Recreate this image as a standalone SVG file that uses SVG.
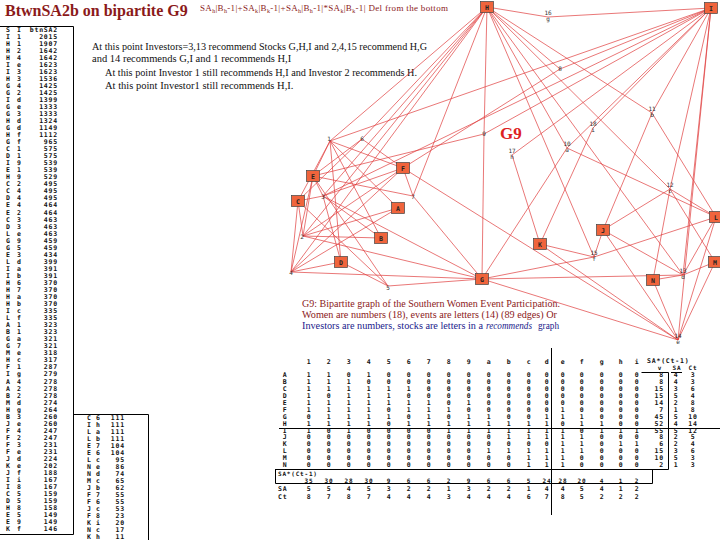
<svg xmlns="http://www.w3.org/2000/svg" width="720" height="540" viewBox="0 0 720 540">
<style>
.t{font-family:"DejaVu Sans Mono","Liberation Mono",monospace;font-size:6.5px;font-weight:bold;fill:#111;letter-spacing:0.8px}
.s{font-family:"Liberation Serif",serif;font-size:10.5px;fill:#111}
.cap{font-family:"Liberation Serif",serif;font-size:10.5px;fill:#8b1a1a}
.capb{font-family:"Liberation Serif",serif;font-size:10.5px;fill:#1a1a8b}
.e path{stroke:#e03c3c;stroke-width:0.7;fill:none}
.ev rect{fill:#f0643c;stroke:#444;stroke-width:0.7}
.ev text{font-family:"DejaVu Sans Mono",monospace;font-size:6.5px;font-weight:bold;fill:#222;text-anchor:middle}
.w text{font-family:"DejaVu Sans Mono",monospace;font-size:6px;fill:#333;text-anchor:middle}
.ln{stroke:#000;stroke-width:1;fill:none}
</style>
<rect width="720" height="540" fill="#fff"/>
<text x="5" y="16" style="font-family:'Liberation Serif',serif;font-size:16px;font-weight:bold;fill:#8b1a1a">BtwnSA2b on bipartite G9</text>
<text x="200" y="11" textLength="248" lengthAdjust="spacing" style="font-family:'Liberation Serif',serif;font-size:9px;fill:#8b1a1a">SA<tspan dy="2" font-size="6">h</tspan><tspan dy="-2">|B</tspan><tspan dy="2" font-size="6">h</tspan><tspan dy="-2">-1|+SA</tspan><tspan dy="2" font-size="6">k</tspan><tspan dy="-2">|B</tspan><tspan dy="2" font-size="6">k</tspan><tspan dy="-2">-1|+SA</tspan><tspan dy="2" font-size="6">h</tspan><tspan dy="-2">|B</tspan><tspan dy="2" font-size="6">h</tspan><tspan dy="-2">-1|*SA</tspan><tspan dy="2" font-size="6">k</tspan><tspan dy="-2">|B</tspan><tspan dy="2" font-size="6">k</tspan><tspan dy="-2">-1| Del from the bottom</tspan></text>

<text class="s" x="92" y="49.5" textLength="335" lengthAdjust="spacingAndGlyphs">At this point Investors=3,13 recommend Stocks G,H,I and 2,4,15 recommend H,G</text>
<text class="s" x="92" y="61.5">and 14 recommends G,I and 1 recommends H,I</text>
<text class="s" x="105" y="75.5" textLength="312" lengthAdjust="spacingAndGlyphs">At this point Investor 1 still recommends H,I and Investor 2 recommends H.</text>
<text class="s" x="105" y="88.5">At this point Investor1 still recommends H,I.</text>

<g id="connectors" class="e">
<path d="M398 208L330 141M398 208L303 236M398 208L291 272"/>
<path d="M381 238L330 141M381 238L303 236M381 238L323 196"/>
<path d="M298 201L330 141M298 201L303 236M298 201L323 196M298 201L291 272M298 201L388 286M298 201L362 139"/>
<path d="M341 262L330 141M341 262L323 196M341 262L291 272M341 262L388 286"/>
<path d="M313 176L330 141M313 176L303 236M313 176L323 196M313 176L291 272M313 176L388 286M313 176L362 139M313 176L413 196M313 176L484 134"/>
<path d="M403 168L330 141M403 168L303 236M403 168L323 196M403 168L291 272M403 168L362 139M403 168L413 196M403 168L560 69M403 168L678 340"/>
<path d="M482 279L303 236M482 279L323 196M482 279L291 272M482 279L388 286M482 279L413 196M482 279L484 134M482 279L567 148M482 279L683 275M482 279L678 340M482 279L594 257"/>
<path d="M487 7L330 141M487 7L303 236M487 7L323 196M487 7L291 272M487 7L362 139M487 7L413 196M487 7L560 69M487 7L484 134M487 7L567 148M487 7L652 113M487 7L670 189M487 7L683 275M487 7L594 257M487 7L548 17"/>
<path d="M711 8L330 141M711 8L323 196M711 8L560 69M711 8L484 134M711 8L567 148M711 8L652 113M711 8L670 189M711 8L683 275M711 8L678 340M711 8L548 17M711 8L512 155M711 8L593 128"/>
<path d="M603 230L652 113M603 230L670 189M603 230L683 275M603 230L678 340M603 230L594 257"/>
<path d="M540 244L678 340M540 244L594 257M540 244L512 155M540 244L593 128"/>
<path d="M716 217L567 148M716 217L652 113M716 217L670 189M716 217L683 275M716 217L678 340M716 217L594 257"/>
<path d="M715 262L670 189M715 262L683 275M715 262L678 340"/>
<path d="M653 280L670 189M653 280L683 275M653 280L678 340"/>
</g>

<g id="women" class="w">
<g id="w1"><text x="329" y="141">1</text></g>
<g id="w2"><text x="302" y="239">2</text></g>
<g id="w3"><text x="323" y="199">3</text></g>
<g id="w4"><text x="291" y="275">4</text></g>
<g id="w5"><text x="388" y="290">5</text></g>
<g id="w6"><text x="362" y="141">6</text></g>
<g id="w7"><text x="413" y="199">7</text></g>
<g id="w8"><text x="560" y="71">8</text></g>
<g id="w9"><text x="484" y="136">9</text></g>
<g id="wa"><text x="567" y="146">10</text><text x="567" y="152">a</text></g>
<g id="wb"><text x="652" y="111">11</text><text x="652" y="117">b</text></g>
<g id="wc"><text x="670" y="187">12</text><text x="670" y="193">c</text></g>
<g id="wd"><text x="683" y="273">13</text><text x="683" y="279">d</text></g>
<g id="we"><text x="678" y="338">14</text><text x="678" y="344">e</text></g>
<g id="wf"><text x="594" y="255">15</text><text x="594" y="261">f</text></g>
<g id="wg"><text x="548" y="15">16</text><text x="548" y="21">g</text></g>
<g id="wh"><text x="512" y="153">17</text><text x="512" y="159">h</text></g>
<g id="wi"><text x="593" y="126">18</text><text x="593" y="132">i</text></g>
</g>

<g id="events" class="ev">
<g id="evA"><rect x="391.5" y="202.5" width="13" height="11"/><text x="398" y="210.5">A</text></g>
<g id="evB"><rect x="374.5" y="232.5" width="13" height="11"/><text x="381" y="240.5">B</text></g>
<g id="evC"><rect x="291.5" y="195.5" width="13" height="11"/><text x="298" y="203.5">C</text></g>
<g id="evD"><rect x="334.5" y="256.5" width="13" height="11"/><text x="341" y="264.5">D</text></g>
<g id="evE"><rect x="306.5" y="170.5" width="13" height="11"/><text x="313" y="178.5">E</text></g>
<g id="evF"><rect x="396.5" y="162.5" width="13" height="11"/><text x="403" y="170.5">F</text></g>
<g id="evG"><rect x="475.5" y="273.5" width="13" height="11"/><text x="482" y="281.5">G</text></g>
<g id="evH"><rect x="480.5" y="1.5" width="13" height="11"/><text x="487" y="9.5">H</text></g>
<g id="evI"><rect x="704.5" y="2.5" width="13" height="11"/><text x="711" y="10.5">I</text></g>
<g id="evJ"><rect x="596.5" y="224.5" width="13" height="11"/><text x="603" y="232.5">J</text></g>
<g id="evK"><rect x="533.5" y="238.5" width="13" height="11"/><text x="540" y="246.5">K</text></g>
<g id="evL"><rect x="709.5" y="211.5" width="13" height="11"/><text x="716" y="219.5">L</text></g>
<g id="evM"><rect x="708.5" y="256.5" width="13" height="11"/><text x="715" y="264.5">M</text></g>
<g id="evN"><rect x="646.5" y="274.5" width="13" height="11"/><text x="653" y="282.5">N</text></g>
</g>

<text x="500" y="139" style="font-family:'Liberation Serif',serif;font-size:17px;font-weight:bold;fill:#dd2222">G9</text>

<text class="cap" x="302" y="306.5" textLength="258" lengthAdjust="spacingAndGlyphs">G9: Bipartite graph of the Southern Women Event Participation.</text>
<text class="cap" x="302" y="317.5" textLength="255" lengthAdjust="spacingAndGlyphs">Women are numbers (18), events are letters (14) (89 edges) Or</text>
<text class="capb" x="302" y="328.5" textLength="181" lengthAdjust="spacingAndGlyphs">Investors are numbers, stocks are letters in a</text>
<text class="capb" x="486" y="328.5" textLength="46" lengthAdjust="spacingAndGlyphs" font-style="italic">recommends</text>
<text class="capb" x="538" y="328.5" textLength="21" lengthAdjust="spacingAndGlyphs">graph</text>

<!-- left ranking table -->
<g id="ranktable">
<path class="ln" d="M0 26.5H73.5V534.5H0M73.5 414.5H148.5V540"/>
<text class="t"><tspan x="6" y="31.5">S</tspan><tspan x="6" dy="7.04">I</tspan><tspan x="6" dy="7.04">H</tspan><tspan x="6" dy="7.04">H</tspan><tspan x="6" dy="7.04">H</tspan><tspan x="6" dy="7.04">I</tspan><tspan x="6" dy="7.04">I</tspan><tspan x="6" dy="7.04">H</tspan><tspan x="6" dy="7.04">G</tspan><tspan x="6" dy="7.04">G</tspan><tspan x="6" dy="7.04">I</tspan><tspan x="6" dy="7.04">G</tspan><tspan x="6" dy="7.04">G</tspan><tspan x="6" dy="7.04">H</tspan><tspan x="6" dy="7.04">G</tspan><tspan x="6" dy="7.04">H</tspan><tspan x="6" dy="7.04">G</tspan><tspan x="6" dy="7.04">C</tspan><tspan x="6" dy="7.04">D</tspan><tspan x="6" dy="7.04">I</tspan><tspan x="6" dy="7.04">E</tspan><tspan x="6" dy="7.04">H</tspan><tspan x="6" dy="7.04">C</tspan><tspan x="6" dy="7.04">C</tspan><tspan x="6" dy="7.04">D</tspan><tspan x="6" dy="7.04">E</tspan><tspan x="6" dy="7.04">E</tspan><tspan x="6" dy="7.04">C</tspan><tspan x="6" dy="7.04">D</tspan><tspan x="6" dy="7.04">L</tspan><tspan x="6" dy="7.04">G</tspan><tspan x="6" dy="7.04">G</tspan><tspan x="6" dy="7.04">E</tspan><tspan x="6" dy="7.04">L</tspan><tspan x="6" dy="7.04">I</tspan><tspan x="6" dy="7.04">I</tspan><tspan x="6" dy="7.04">H</tspan><tspan x="6" dy="7.04">H</tspan><tspan x="6" dy="7.04">H</tspan><tspan x="6" dy="7.04">H</tspan><tspan x="6" dy="7.04">I</tspan><tspan x="6" dy="7.04">L</tspan><tspan x="6" dy="7.04">A</tspan><tspan x="6" dy="7.04">B</tspan><tspan x="6" dy="7.04">G</tspan><tspan x="6" dy="7.04">G</tspan><tspan x="6" dy="7.04">M</tspan><tspan x="6" dy="7.04">H</tspan><tspan x="6" dy="7.04">F</tspan><tspan x="6" dy="7.04">I</tspan><tspan x="6" dy="7.04">A</tspan><tspan x="6" dy="7.04">A</tspan><tspan x="6" dy="7.04">B</tspan><tspan x="6" dy="7.04">M</tspan><tspan x="6" dy="7.04">H</tspan><tspan x="6" dy="7.04">B</tspan><tspan x="6" dy="7.04">J</tspan><tspan x="6" dy="7.04">F</tspan><tspan x="6" dy="7.04">F</tspan><tspan x="6" dy="7.04">F</tspan><tspan x="6" dy="7.04">F</tspan><tspan x="6" dy="7.04">J</tspan><tspan x="6" dy="7.04">K</tspan><tspan x="6" dy="7.04">J</tspan><tspan x="6" dy="7.04">I</tspan><tspan x="6" dy="7.04">I</tspan><tspan x="6" dy="7.04">C</tspan><tspan x="6" dy="7.04">D</tspan><tspan x="6" dy="7.04">H</tspan><tspan x="6" dy="7.04">E</tspan><tspan x="6" dy="7.04">E</tspan><tspan x="6" dy="7.04">K</tspan></text>
<text class="t"><tspan x="17" y="31.5">I</tspan><tspan x="17" dy="7.04">1</tspan><tspan x="17" dy="7.04">1</tspan><tspan x="17" dy="7.04">2</tspan><tspan x="17" dy="7.04">4</tspan><tspan x="17" dy="7.04">e</tspan><tspan x="17" dy="7.04">3</tspan><tspan x="17" dy="7.04">3</tspan><tspan x="17" dy="7.04">4</tspan><tspan x="17" dy="7.04">2</tspan><tspan x="17" dy="7.04">d</tspan><tspan x="17" dy="7.04">e</tspan><tspan x="17" dy="7.04">3</tspan><tspan x="17" dy="7.04">d</tspan><tspan x="17" dy="7.04">d</tspan><tspan x="17" dy="7.04">f</tspan><tspan x="17" dy="7.04">f</tspan><tspan x="17" dy="7.04">1</tspan><tspan x="17" dy="7.04">1</tspan><tspan x="17" dy="7.04">9</tspan><tspan x="17" dy="7.04">1</tspan><tspan x="17" dy="7.04">9</tspan><tspan x="17" dy="7.04">2</tspan><tspan x="17" dy="7.04">4</tspan><tspan x="17" dy="7.04">4</tspan><tspan x="17" dy="7.04">4</tspan><tspan x="17" dy="7.04">2</tspan><tspan x="17" dy="7.04">3</tspan><tspan x="17" dy="7.04">3</tspan><tspan x="17" dy="7.04">e</tspan><tspan x="17" dy="7.04">9</tspan><tspan x="17" dy="7.04">5</tspan><tspan x="17" dy="7.04">3</tspan><tspan x="17" dy="7.04">d</tspan><tspan x="17" dy="7.04">a</tspan><tspan x="17" dy="7.04">b</tspan><tspan x="17" dy="7.04">6</tspan><tspan x="17" dy="7.04">7</tspan><tspan x="17" dy="7.04">a</tspan><tspan x="17" dy="7.04">b</tspan><tspan x="17" dy="7.04">c</tspan><tspan x="17" dy="7.04">f</tspan><tspan x="17" dy="7.04">1</tspan><tspan x="17" dy="7.04">1</tspan><tspan x="17" dy="7.04">a</tspan><tspan x="17" dy="7.04">7</tspan><tspan x="17" dy="7.04">e</tspan><tspan x="17" dy="7.04">c</tspan><tspan x="17" dy="7.04">1</tspan><tspan x="17" dy="7.04">g</tspan><tspan x="17" dy="7.04">4</tspan><tspan x="17" dy="7.04">2</tspan><tspan x="17" dy="7.04">2</tspan><tspan x="17" dy="7.04">d</tspan><tspan x="17" dy="7.04">g</tspan><tspan x="17" dy="7.04">3</tspan><tspan x="17" dy="7.04">e</tspan><tspan x="17" dy="7.04">4</tspan><tspan x="17" dy="7.04">2</tspan><tspan x="17" dy="7.04">3</tspan><tspan x="17" dy="7.04">e</tspan><tspan x="17" dy="7.04">d</tspan><tspan x="17" dy="7.04">e</tspan><tspan x="17" dy="7.04">f</tspan><tspan x="17" dy="7.04">i</tspan><tspan x="17" dy="7.04">8</tspan><tspan x="17" dy="7.04">5</tspan><tspan x="17" dy="7.04">5</tspan><tspan x="17" dy="7.04">8</tspan><tspan x="17" dy="7.04">5</tspan><tspan x="17" dy="7.04">9</tspan><tspan x="17" dy="7.04">f</tspan></text>
<text class="t" text-anchor="end"><tspan x="58" y="31.5">btnSA2</tspan><tspan x="58" dy="7.04">2015</tspan><tspan x="58" dy="7.04">1907</tspan><tspan x="58" dy="7.04">1642</tspan><tspan x="58" dy="7.04">1642</tspan><tspan x="58" dy="7.04">1623</tspan><tspan x="58" dy="7.04">1623</tspan><tspan x="58" dy="7.04">1536</tspan><tspan x="58" dy="7.04">1425</tspan><tspan x="58" dy="7.04">1425</tspan><tspan x="58" dy="7.04">1399</tspan><tspan x="58" dy="7.04">1333</tspan><tspan x="58" dy="7.04">1333</tspan><tspan x="58" dy="7.04">1324</tspan><tspan x="58" dy="7.04">1149</tspan><tspan x="58" dy="7.04">1112</tspan><tspan x="58" dy="7.04">965</tspan><tspan x="58" dy="7.04">575</tspan><tspan x="58" dy="7.04">575</tspan><tspan x="58" dy="7.04">539</tspan><tspan x="58" dy="7.04">539</tspan><tspan x="58" dy="7.04">529</tspan><tspan x="58" dy="7.04">495</tspan><tspan x="58" dy="7.04">495</tspan><tspan x="58" dy="7.04">495</tspan><tspan x="58" dy="7.04">464</tspan><tspan x="58" dy="7.04">464</tspan><tspan x="58" dy="7.04">463</tspan><tspan x="58" dy="7.04">463</tspan><tspan x="58" dy="7.04">463</tspan><tspan x="58" dy="7.04">459</tspan><tspan x="58" dy="7.04">459</tspan><tspan x="58" dy="7.04">434</tspan><tspan x="58" dy="7.04">399</tspan><tspan x="58" dy="7.04">391</tspan><tspan x="58" dy="7.04">391</tspan><tspan x="58" dy="7.04">370</tspan><tspan x="58" dy="7.04">370</tspan><tspan x="58" dy="7.04">370</tspan><tspan x="58" dy="7.04">370</tspan><tspan x="58" dy="7.04">335</tspan><tspan x="58" dy="7.04">335</tspan><tspan x="58" dy="7.04">323</tspan><tspan x="58" dy="7.04">323</tspan><tspan x="58" dy="7.04">321</tspan><tspan x="58" dy="7.04">321</tspan><tspan x="58" dy="7.04">318</tspan><tspan x="58" dy="7.04">317</tspan><tspan x="58" dy="7.04">287</tspan><tspan x="58" dy="7.04">279</tspan><tspan x="58" dy="7.04">278</tspan><tspan x="58" dy="7.04">278</tspan><tspan x="58" dy="7.04">278</tspan><tspan x="58" dy="7.04">274</tspan><tspan x="58" dy="7.04">264</tspan><tspan x="58" dy="7.04">260</tspan><tspan x="58" dy="7.04">260</tspan><tspan x="58" dy="7.04">247</tspan><tspan x="58" dy="7.04">247</tspan><tspan x="58" dy="7.04">231</tspan><tspan x="58" dy="7.04">231</tspan><tspan x="58" dy="7.04">224</tspan><tspan x="58" dy="7.04">202</tspan><tspan x="58" dy="7.04">188</tspan><tspan x="58" dy="7.04">167</tspan><tspan x="58" dy="7.04">167</tspan><tspan x="58" dy="7.04">159</tspan><tspan x="58" dy="7.04">159</tspan><tspan x="58" dy="7.04">158</tspan><tspan x="58" dy="7.04">149</tspan><tspan x="58" dy="7.04">149</tspan><tspan x="58" dy="7.04">146</tspan></text>
<text class="t"><tspan x="87" y="419.5">C</tspan><tspan x="87" dy="7.04">I</tspan><tspan x="87" dy="7.04">L</tspan><tspan x="87" dy="7.04">L</tspan><tspan x="87" dy="7.04">E</tspan><tspan x="87" dy="7.04">E</tspan><tspan x="87" dy="7.04">L</tspan><tspan x="87" dy="7.04">N</tspan><tspan x="87" dy="7.04">N</tspan><tspan x="87" dy="7.04">M</tspan><tspan x="87" dy="7.04">J</tspan><tspan x="87" dy="7.04">F</tspan><tspan x="87" dy="7.04">F</tspan><tspan x="87" dy="7.04">J</tspan><tspan x="87" dy="7.04">F</tspan><tspan x="87" dy="7.04">K</tspan><tspan x="87" dy="7.04">N</tspan><tspan x="87" dy="7.04">K</tspan></text>
<text class="t"><tspan x="96" y="419.5">6</tspan><tspan x="96" dy="7.04">h</tspan><tspan x="96" dy="7.04">a</tspan><tspan x="96" dy="7.04">b</tspan><tspan x="96" dy="7.04">7</tspan><tspan x="96" dy="7.04">6</tspan><tspan x="96" dy="7.04">c</tspan><tspan x="96" dy="7.04">e</tspan><tspan x="96" dy="7.04">d</tspan><tspan x="96" dy="7.04">c</tspan><tspan x="96" dy="7.04">b</tspan><tspan x="96" dy="7.04">7</tspan><tspan x="96" dy="7.04">6</tspan><tspan x="96" dy="7.04">c</tspan><tspan x="96" dy="7.04">8</tspan><tspan x="96" dy="7.04">i</tspan><tspan x="96" dy="7.04">c</tspan><tspan x="96" dy="7.04">h</tspan></text>
<text class="t" text-anchor="end"><tspan x="125" y="419.5">111</tspan><tspan x="125" dy="7.04">111</tspan><tspan x="125" dy="7.04">111</tspan><tspan x="125" dy="7.04">111</tspan><tspan x="125" dy="7.04">104</tspan><tspan x="125" dy="7.04">104</tspan><tspan x="125" dy="7.04">95</tspan><tspan x="125" dy="7.04">86</tspan><tspan x="125" dy="7.04">74</tspan><tspan x="125" dy="7.04">65</tspan><tspan x="125" dy="7.04">62</tspan><tspan x="125" dy="7.04">55</tspan><tspan x="125" dy="7.04">55</tspan><tspan x="125" dy="7.04">53</tspan><tspan x="125" dy="7.04">23</tspan><tspan x="125" dy="7.04">20</tspan><tspan x="125" dy="7.04">17</tspan><tspan x="125" dy="7.04">11</tspan></text>
</g>

<!-- matrix -->
<g id="matrix">
<path class="ln" d="M551.5 348V515M279 428.5H720M641.5 372.5H668.5V469.5M275 469.5H668.5M275.5 469.5V483.5H652.5V469.5M671 372.5H682"/>
<text class="t" text-anchor="middle" x="309 329 349 369 389 409 429 449 469 489 509 529 547 563 582 602 621 637" y="364">123456789abcdefghi</text>
<text class="t" x="647" y="363">SA*(Ct-1)</text>
<text class="t" text-anchor="middle" style="font-size:6px" x="660" y="369.5">v</text>
<text class="t" text-anchor="middle" style="font-size:6px" x="677" y="369.5">SA</text>
<text class="t" text-anchor="middle" style="font-size:6px" x="693" y="369.5">Ct</text>
<text class="t" text-anchor="middle"><tspan x="285" y="377.3">A</tspan><tspan x="285" dy="6.9">B</tspan><tspan x="285" dy="6.9">C</tspan><tspan x="285" dy="6.9">D</tspan><tspan x="285" dy="6.9">E</tspan><tspan x="285" dy="6.9">F</tspan><tspan x="285" dy="6.9">G</tspan><tspan x="285" dy="6.9">H</tspan><tspan x="285" dy="6.9">I</tspan><tspan x="285" dy="6.9">J</tspan><tspan x="285" dy="6.9">K</tspan><tspan x="285" dy="6.9">L</tspan><tspan x="285" dy="6.9">M</tspan><tspan x="285" dy="6.9">N</tspan></text>
<g class="t" text-anchor="middle">
<text x="309 329 349 369 389 409 429 449 469 489 509 529 547 563 582 602 621 637" y="377.3">110100000000000000</text>
<text x="309 329 349 369 389 409 429 449 469 489 509 529 547 563 582 602 621 637" y="384.2">111000000000000000</text>
<text x="309 329 349 369 389 409 429 449 469 489 509 529 547 563 582 602 621 637" y="391.1">111111000000000000</text>
<text x="309 329 349 369 389 409 429 449 469 489 509 529 547 563 582 602 621 637" y="398">101110000000000000</text>
<text x="309 329 349 369 389 409 429 449 469 489 509 529 547 563 582 602 621 637" y="404.9">111111101000000000</text>
<text x="309 329 349 369 389 409 429 449 469 489 509 529 547 563 582 602 621 637" y="411.8">111101110000010000</text>
<text x="309 329 349 369 389 409 429 449 469 489 509 529 547 563 582 602 621 637" y="418.7">011110101100111000</text>
<text x="309 329 349 369 389 409 429 449 469 489 509 529 547 563 582 602 621 637" y="425.6">111101111111101100</text>
<text x="309 329 349 369 389 409 429 449 469 489 509 529 547 563 582 602 621 637" y="432.5">101000011111110111</text>
<text x="309 329 349 369 389 409 429 449 469 489 509 529 547 563 582 602 621 637" y="439.4">000000000011111000</text>
<text x="309 329 349 369 389 409 429 449 469 489 509 529 547 563 582 602 621 637" y="446.3">000000000000011011</text>
<text x="309 329 349 369 389 409 429 449 469 489 509 529 547 563 582 602 621 637" y="453.2">000000000111111000</text>
<text x="309 329 349 369 389 409 429 449 469 489 509 529 547 563 582 602 621 637" y="460.1">000000000001110000</text>
<text x="309 329 349 369 389 409 429 449 469 489 509 529 547 563 582 602 621 637" y="467">000000000001110000</text>
</g>
<text class="t" text-anchor="end"><tspan x="664" y="377.3">8</tspan><tspan x="664" dy="6.9">8</tspan><tspan x="664" dy="6.9">15</tspan><tspan x="664" dy="6.9">15</tspan><tspan x="664" dy="6.9">14</tspan><tspan x="664" dy="6.9">7</tspan><tspan x="664" dy="6.9">45</tspan><tspan x="664" dy="6.9">52</tspan><tspan x="664" dy="6.9">55</tspan><tspan x="664" dy="6.9">8</tspan><tspan x="664" dy="6.9">6</tspan><tspan x="664" dy="6.9">15</tspan><tspan x="664" dy="6.9">10</tspan><tspan x="664" dy="6.9">2</tspan></text>
<text class="t" text-anchor="middle"><tspan x="676" y="377.3">4</tspan><tspan x="676" dy="6.9">4</tspan><tspan x="676" dy="6.9">3</tspan><tspan x="676" dy="6.9">5</tspan><tspan x="676" dy="6.9">2</tspan><tspan x="676" dy="6.9">1</tspan><tspan x="676" dy="6.9">5</tspan><tspan x="676" dy="6.9">4</tspan><tspan x="676" dy="6.9">5</tspan><tspan x="676" dy="6.9">2</tspan><tspan x="676" dy="6.9">2</tspan><tspan x="676" dy="6.9">3</tspan><tspan x="676" dy="6.9">5</tspan><tspan x="676" dy="6.9">1</tspan></text>
<text class="t" text-anchor="middle"><tspan x="693" y="377.3">3</tspan><tspan x="693" dy="6.9">3</tspan><tspan x="693" dy="6.9">6</tspan><tspan x="693" dy="6.9">4</tspan><tspan x="693" dy="6.9">8</tspan><tspan x="693" dy="6.9">8</tspan><tspan x="693" dy="6.9">10</tspan><tspan x="693" dy="6.9">14</tspan><tspan x="693" dy="6.9">12</tspan><tspan x="693" dy="6.9">5</tspan><tspan x="693" dy="6.9">4</tspan><tspan x="693" dy="6.9">6</tspan><tspan x="693" dy="6.9">3</tspan><tspan x="693" dy="6.9">3</tspan></text>
<text class="t" style="font-size:6px" x="278" y="475.5">SA*(Ct-1)</text>
<text class="t" style="font-size:6px" text-anchor="middle" y="482.6"><tspan x="309">35</tspan><tspan x="329">30</tspan><tspan x="349">28</tspan><tspan x="369">30</tspan><tspan x="389">9</tspan><tspan x="409">6</tspan><tspan x="429">6</tspan><tspan x="449">2</tspan><tspan x="469">9</tspan><tspan x="489">6</tspan><tspan x="509">6</tspan><tspan x="529">5</tspan><tspan x="547">24</tspan><tspan x="563">28</tspan><tspan x="582">20</tspan><tspan x="602">4</tspan><tspan x="621">1</tspan><tspan x="637">2</tspan></text>
<text class="t" x="278" y="490.5">SA</text>
<text class="t" text-anchor="middle" x="309 329 349 369 389 409 429 449 469 489 509 529 547 563 582 602 621 637" y="490.5">554532213221445412</text>
<text class="t" x="278" y="498.5">Ct</text>
<text class="t" text-anchor="middle" x="309 329 349 369 389 409 429 449 469 489 509 529 547 563 582 602 621 637" y="498.5">878744434446785222</text>
</g>
</svg>
